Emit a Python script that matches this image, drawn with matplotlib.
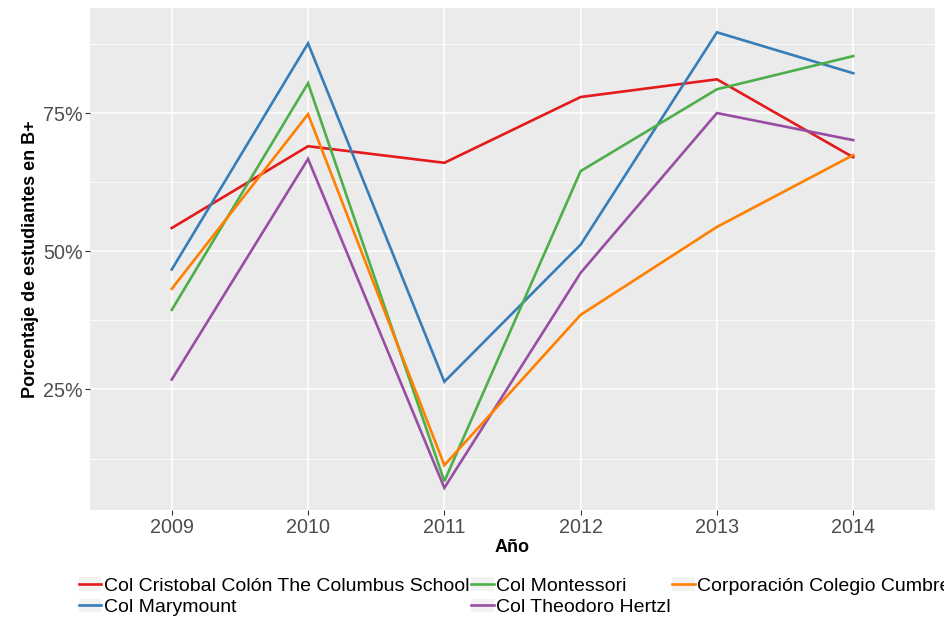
import matplotlib.pyplot as plt
from matplotlib.ticker import FixedLocator, FuncFormatter
from matplotlib.patches import Patch
from matplotlib.legend_handler import HandlerTuple

plt.rcParams['font.family'] = ['Liberation Sans', 'DejaVu Sans']

years = ['2009', '2010', '2011', '2012', '2013', '2014']

schools = [
    'Col Cristobal Colón The Columbus School',
    'Col Marymount',
    'Col Montessori',
    'Col Theodoro Hertzl',
    'Corporación Colegio Cumbre',
]
colors = ['#E41A1C', '#377EB8', '#4DAF4A', '#984EA3', '#FF7F00']

colon = [54.2, 69.0, 66.0, 77.9, 81.1, 67.0]
marymount = [46.7, 87.6, 26.4, 51.2, 89.6, 82.2]
montessori = [39.4, 80.4, 8.4, 64.5, 79.3, 85.3]
hertzl = [26.8, 66.7, 7.2, 46.1, 75.0, 70.1]
cumbre = [43.2, 74.8, 11.3, 38.5, 54.4, 67.4]

series = [colon, marymount, montessori, hertzl, cumbre]

fig = plt.figure(figsize=(9.45, 6.17), dpi=100)
ax = fig.add_axes([90 / 945, 1 - 510 / 617, (935 - 90) / 945, (510 - 8) / 617])
ax.set_facecolor('#EBEBEB')
for s in ax.spines.values():
    s.set_visible(False)

x = list(range(len(years)))
handles = []
for name, vals, c in zip(schools, series, colors):
    h, = ax.plot(x, vals, color=c, lw=1.9, label=name, solid_joinstyle='miter')
    # grey key box behind the line, like ggplot
    handles.append((Patch(facecolor='#F2F2F2', edgecolor='none'), h))

ax.set_xlim(-0.6, 5.6)
ax.set_ylim(3.2, 94.0)
ax.set_xticks(x)
ax.set_xticklabels(years)
ax.yaxis.set_major_locator(FixedLocator([25, 50, 75]))
ax.yaxis.set_minor_locator(FixedLocator([12.5, 37.5, 62.5, 87.5]))
ax.yaxis.set_major_formatter(FuncFormatter(lambda v, p: f'{v:.0f}%'))

ax.grid(which='major', color='white', lw=1.1)
ax.grid(which='minor', axis='y', color='white', lw=0.55)
ax.set_axisbelow(True)
ax.tick_params(axis='both', which='major', length=3.5, width=0.8, color='#333333',
               labelcolor='#4D4D4D', labelsize=14.2, pad=2)
ax.tick_params(axis='y', which='minor', length=0)

ax.set_xlabel('Año', fontsize=13, fontweight='bold', labelpad=2)
ax.set_ylabel('Porcentaje de estudiantes en B+', fontsize=13, fontweight='bold', labelpad=3)

leg = fig.legend(handles=handles, labels=schools, loc='upper left',
                 bbox_to_anchor=(79 / 945, 1 - 577 / 617),
                 handler_map={tuple: HandlerTuple(ndivide=1, pad=0)},
                 ncol=3, frameon=False, fontsize=14.0, handlelength=1.15,
                 handletextpad=0.12, columnspacing=0.1, labelspacing=0.2,
                 borderaxespad=0, borderpad=0)

fig.savefig('out.png', dpi=100)
